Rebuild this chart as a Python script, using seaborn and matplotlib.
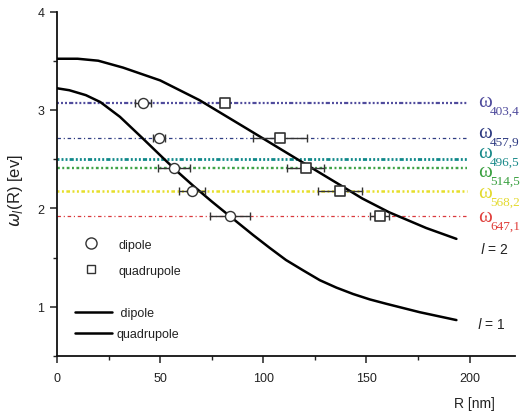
import numpy as np
import pandas as pd
import matplotlib
matplotlib.use('Agg')
import matplotlib.pyplot as plt
from matplotlib.lines import Line2D
from matplotlib.ticker import MultipleLocator
import seaborn as sns

# laser lines (nm) and their photon energies (eV)
laser_nm = ['403,4', '457,9', '496,5', '514,5', '568,2', '647,1']
laser_ev = [3.07, 2.71, 2.50, 2.41, 2.18, 1.92]
laser_colors = ['#4f4b9c', '#2e3b82', '#10898a', '#3fa347', '#e6df2a', '#d9383c']
label_colors = ['#4f4b9c', '#2e3b82', '#1a8a8a', '#3aa040', '#e3da30', '#e0403c']

# measured resonances (dipole = circles, quadrupole = squares)
dip_R = [41.6, 49.5, 56.7, 65.4, 83.8]
dip_E = [3.07, 2.71, 2.41, 2.18, 1.92]
dip_err = [4.0, 3.0, 7.7, 6.5, 9.7]

quad_R = [81.4, 108.0, 120.6, 137.0, 156.4]
quad_E = [3.07, 2.71, 2.41, 2.18, 1.92]
quad_err = [0.0, 13.0, 9.0, 10.7, 4.5]

# calculated curves l = 1 and l = 2
l1_R = [0, 6, 14, 21, 30.5, 41.6, 50, 58, 66, 75, 83.8, 95, 103, 111,
        119.3, 127.4, 135.4, 143.5, 151.6, 159.7, 175.8, 193.6]
l1_E = [3.22, 3.20, 3.15, 3.08, 2.93, 2.71, 2.54, 2.38, 2.23, 2.07, 1.92, 1.73, 1.60, 1.475,
        1.37, 1.27, 1.195, 1.13, 1.075, 1.03, 0.945, 0.865]
l2_R = [0, 10, 20, 32, 50, 69, 92, 118, 137, 148, 161, 179, 193.6]
l2_E = [3.52, 3.52, 3.50, 3.43, 3.30, 3.10, 2.81, 2.48, 2.24, 2.10, 1.96, 1.80, 1.69]

sns.set_style('ticks')
plt.rcParams['font.family'] = ['Liberation Sans', 'DejaVu Sans']
plt.rcParams['lines.scale_dashes'] = False
plt.rcParams['text.color'] = '#222222'
plt.rcParams['axes.labelcolor'] = '#222222'
plt.rcParams['xtick.color'] = '#222222'
plt.rcParams['ytick.color'] = '#222222'

fig = plt.figure(figsize=(5.2, 4.14), dpi=100)
ax = fig.add_axes([57 / 520, 1 - 357 / 414, 458 / 520, 344.5 / 414])

# horizontal laser lines
line_styles = [
    (0, (1.4, 1.5, 1.4, 1.5, 1.4, 1.5, 3, 1.5)),
    (0, (2.5, 2.0, 0.8, 2.0)),
    (0, (1.4, 1.5, 1.4, 1.5, 1.4, 1.5, 3, 1.5)),
    (0, (2.0, 1.8, 1.4, 1.8)),
    (0, (1.4, 1.8, 1.4, 1.8, 2.6, 1.8)),
    (0, (2.5, 2.0, 0.8, 2.0)),
]
line_widths = [1.6, 0.9, 2.0, 1.7, 1.8, 0.9]
for e, c, ls, lw in zip(laser_ev, laser_colors, line_styles, line_widths):
    ax.hlines(e, 0, 198.5, colors=c, linestyles=[ls], linewidth=lw, zorder=1)

# laser labels: omega with the wavelength as subscript
omega_y = [3.087, 2.77, 2.57, 2.37, 2.158, 1.913]
for name, y, c in zip(laser_nm, omega_y, label_colors):
    ax.text(203.9, y, 'ω', color=c, fontsize=15, family='Liberation Serif',
            va='center', ha='left', clip_on=False)
    ax.annotate(name, xy=(203.9, y), xytext=(8.8, -6.5), textcoords='offset points',
                color=c, fontsize=9.5, family='Liberation Serif',
                va='center', ha='left', annotation_clip=False)

# theory curves
curves = pd.concat([
    pd.DataFrame({'R': l1_R, 'E': l1_E, 'l': '1'}),
    pd.DataFrame({'R': l2_R, 'E': l2_E, 'l': '2'}),
])
sns.lineplot(data=curves, x='R', y='E', units='l', estimator=None, sort=False,
             color='black', linewidth=1.8, ax=ax, zorder=3)
ax.text(203.4, 0.83, r'$l$ = 1', fontsize=10, va='center', math_fontfamily='dejavusans')
ax.text(204.8, 1.59, r'$l$ = 2', fontsize=10, va='center', math_fontfamily='dejavusans')

# measured points with error bars
ax.errorbar(dip_R, dip_E, xerr=dip_err, fmt='none', ecolor='#333333',
            elinewidth=1.0, capsize=2.6, capthick=1.0, zorder=4)
ax.errorbar(quad_R, quad_E, xerr=quad_err, fmt='none', ecolor='#333333',
            elinewidth=1.0, capsize=2.6, capthick=1.0, zorder=4)
sns.scatterplot(x=dip_R, y=dip_E, marker='o', s=52, facecolor='white',
                edgecolor='#333333', linewidth=1.0, ax=ax, zorder=5)
sns.scatterplot(x=quad_R, y=quad_E, marker='s', s=55, facecolor='white',
                edgecolor='#333333', linewidth=1.2, ax=ax, zorder=5)

# legends
h1 = [Line2D([], [], marker='o', ls='none', ms=8, mfc='white', mec='#333333', mew=1.0),
      Line2D([], [], marker='s', ls='none', ms=6, mfc='white', mec='#333333', mew=1.0)]
leg1 = ax.legend(h1, ['dipole', 'quadrupole'], loc='upper left',
                 bbox_to_anchor=(0.061, 0.340), frameon=False, fontsize=9,
                 handlelength=1.0, handletextpad=1.7, labelspacing=1.1,
                 borderpad=0, borderaxespad=0)
ax.add_artist(leg1)
h2 = [Line2D([], [], color='black', lw=1.8), Line2D([], [], color='black', lw=1.8)]
ax.legend(h2, [' dipole', 'quadrupole'], loc='upper left',
          bbox_to_anchor=(0.039, 0.142), frameon=False, fontsize=9,
          handlelength=2.96, handletextpad=0.4, labelspacing=0.72,
          borderpad=0, borderaxespad=0)

# axes
ax.set_xlim(0, 222)
ax.set_ylim(0.5, 4.0)
ax.set_xticks([0, 50, 100, 150, 200])
ax.set_yticks([1, 2, 3, 4])
ax.xaxis.set_minor_locator(MultipleLocator(25))
ax.yaxis.set_minor_locator(MultipleLocator(0.5))
ax.tick_params(which='major', length=5, width=1.1, direction='out', labelsize=9)
ax.tick_params(which='minor', length=3, width=1.0, direction='out')
ax.tick_params(axis='x', which='major', pad=6.5)
ax.tick_params(axis='y', which='major', pad=4)
sns.despine(ax=ax)
for s in ['left', 'bottom']:
    ax.spines[s].set_linewidth(1.3)
    ax.spines[s].set_color('#111111')

ax.set_xlabel('R [nm]', fontsize=10)
ax.xaxis.set_label_coords(0.9105, -0.116)
ax.set_ylabel(r'$\omega_{l}$(R) [ev]', fontsize=12)
ax.yaxis.set_label_coords(-0.07, 0.482)

fig.savefig('out.png', dpi=100)
